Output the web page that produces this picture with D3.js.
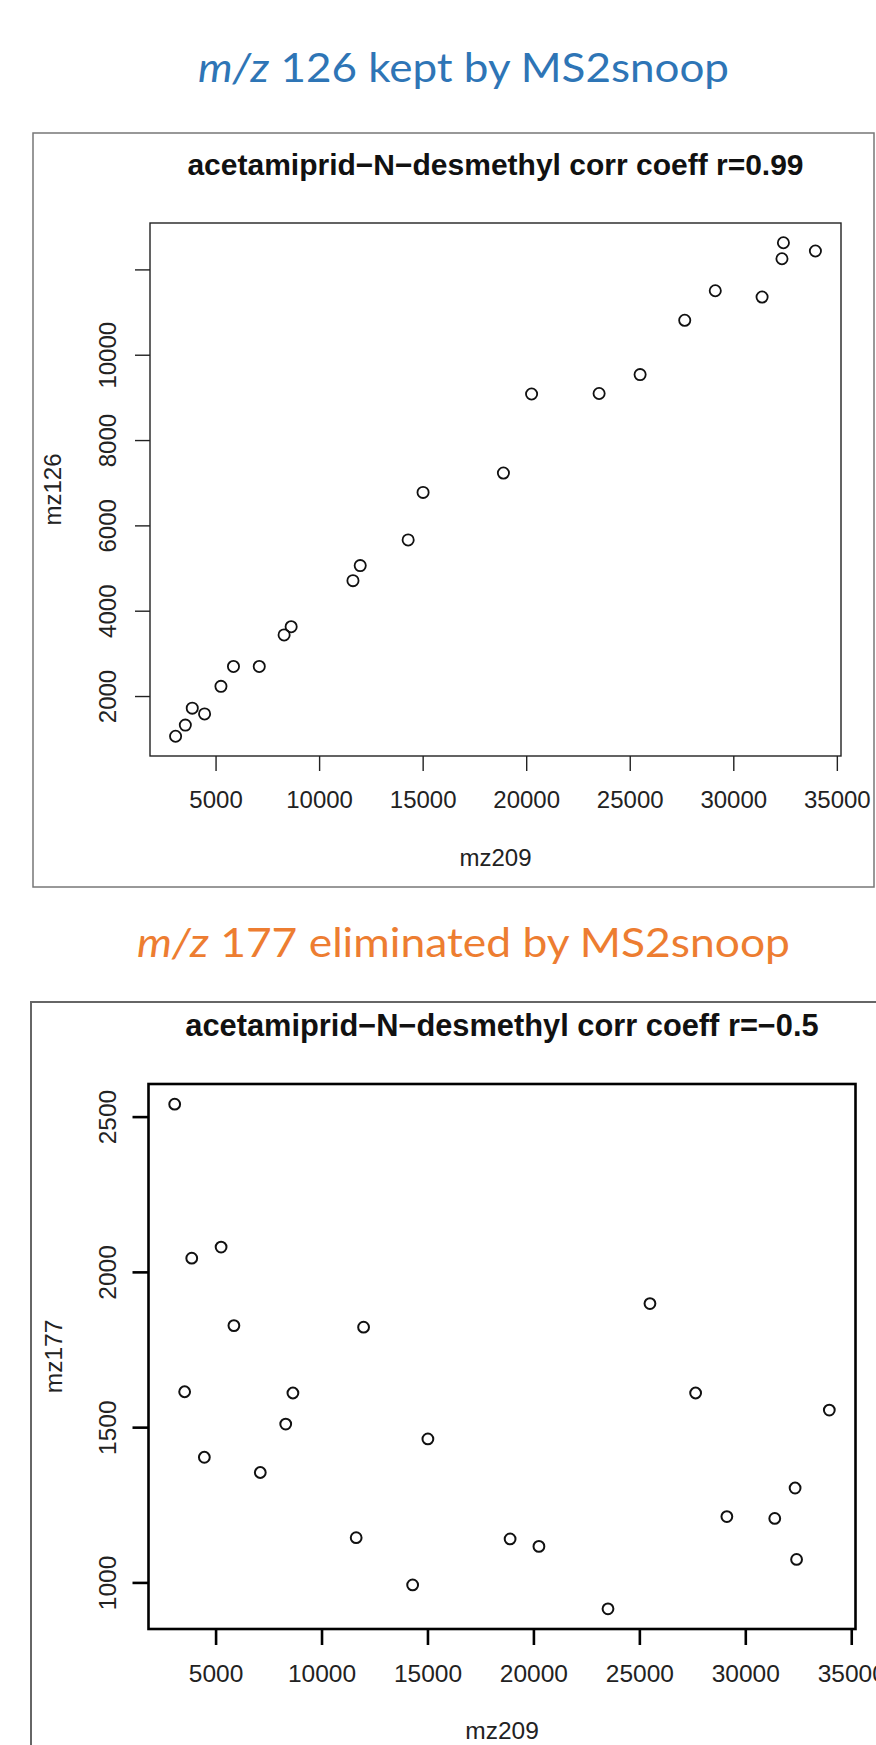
<!DOCTYPE html>
<html>
<head>
<meta charset="utf-8">
<script src="https://cdn.jsdelivr.net/npm/d3@7"></script>
<style>
  body { margin: 0; background: #fff; }
  svg { display: block; }
</style>
</head>
<body>
<script>
// values (same samples in both)
var mz209 = [3070, 3540, 3875, 4470, 5260, 5865, 7110, 8310, 8650, 11635, 11985, 14300,
             15020, 18900, 20260, 23520, 25500, 27655, 29130, 31390, 32350, 32420, 33965];
var mz126 = [1057, 1318, 1716, 1580, 2227, 2693, 2693, 3432, 3625, 4705, 5057, 5659,
             6773, 7227, 9080, 9091, 9534, 10807, 11500, 11352, 12250, 12625, 12432];
var mz177 = [2540, 1614, 2044, 1403, 2080, 1827, 1354, 1510, 1610, 1144, 1822, 992,
             1462, 1140, 1116, 915, 1898, 1610, 1212, 1206, 1304, 1074, 1555];

var xTicks = [5000, 10000, 15000, 20000, 25000, 30000, 35000];
var y126Ticks = [2000, 4000, 6000, 8000, 10000, 12000];
var y126Labels = ["2000", "4000", "6000", "8000", "10000", ""];
var y177Ticks = [1000, 1500, 2000, 2500];
var y177Labels = ["1000", "1500", "2000", "2500"];

var W = 876, H = 1745;

var svg = d3.select("body").append("svg")
  .attr("width", W)
  .attr("height", H);

// R pads the data range by 4% on each side
var rDomain = function(vals){
  var lo = d3.min(vals), hi = d3.max(vals), pad = (hi - lo) * 0.04;
  return [lo - pad, hi + pad];
}

// slide headings (Calibri in the original, so squeeze Lato to the same width)
var drawHeader = function(y, num, rest, color, width){
  var t = svg.append("text")
    .attr("x", 463.5)
    .attr("y", y)
    .attr("text-anchor", "middle")
    .attr("fill", color)
    .attr("textLength", width)
    .attr("lengthAdjust", "spacingAndGlyphs")
    .style("font-family", "Lato, 'Open Sans', sans-serif")
    .style("font-size", "40px");
  t.append("tspan").style("font-style", "italic").text("m/z");
  t.append("tspan").text(" " + num + " " + rest);
}

var drawPanel = function(p){
  // outer frame of the pasted picture
  svg.append("rect")
    .attr("x", p.frame[0]).attr("y", p.frame[1])
    .attr("width", p.frame[2]).attr("height", p.frame[3])
    .attr("fill", "none")
    .attr("stroke", p.frameColor)
    .attr("stroke-width", p.frameWidth);

  var x = d3.scaleLinear().domain(rDomain(mz209)).range([p.left, p.right]);
  var y = d3.scaleLinear().domain(rDomain(p.ys)).range([p.bottom, p.top]);

  var g = svg.append("g")
    .style("font-family", "'Liberation Sans', Arial, sans-serif")
    .style("font-size", p.fs + "px");

  // x axis
  var xa = g.append("g")
    .attr("transform", "translate(0," + p.bottom + ")")
    .call(d3.axisBottom(x).tickValues(xTicks).tickSize(p.tick).tickFormat(d3.format("d")));
  xa.select(".domain").remove();
  xa.selectAll("line").attr("stroke", p.ink).attr("stroke-width", p.lw);
  xa.selectAll("text")
    .attr("y", p.xLabOff).attr("dy", null)
    .attr("fill", "#222")
    .style("font-size", p.fs + "px")
    .style("font-family", "'Liberation Sans', Arial, sans-serif");

  // y axis with labels turned like R's default las=0
  var ya = g.append("g")
    .attr("transform", "translate(" + p.left + ",0)")
    .call(d3.axisLeft(y).tickValues(p.yTicks).tickSize(p.tick)
      .tickFormat(function(d, i){ return p.yLabels[i]; }));
  ya.select(".domain").remove();
  ya.selectAll("line").attr("stroke", p.ink).attr("stroke-width", p.lw);
  ya.selectAll("text")
    .attr("x", 0).attr("dy", null)
    .attr("y", -p.yLabOff)
    .attr("transform", "rotate(-90)")
    .attr("text-anchor", "middle")
    .attr("fill", "#222")
    .style("font-size", p.fs + "px")
    .style("font-family", "'Liberation Sans', Arial, sans-serif");

  // plot box
  g.append("rect")
    .attr("x", p.left).attr("y", p.top)
    .attr("width", p.right - p.left).attr("height", p.bottom - p.top)
    .attr("fill", "none")
    .attr("stroke", p.ink)
    .attr("stroke-width", p.lw);

  // title and axis titles
  g.append("text")
    .attr("x", p.titleX).attr("y", p.top - 48)
    .attr("text-anchor", "middle")
    .style("font-weight", "bold")
    .style("font-size", p.tfs + "px")
    .attr("fill", "#111")
    .text(p.title);

  g.append("text")
    .attr("x", (p.left + p.right) / 2).attr("y", p.bottom + 110)
    .attr("text-anchor", "middle")
    .attr("fill", "#222")
    .text("mz209");

  g.append("text")
    .attr("transform", "translate(" + p.yTitleX + "," + ((p.top + p.bottom) / 2) + ") rotate(-90)")
    .attr("text-anchor", "middle")
    .attr("fill", "#222")
    .text(p.yName);

  // points
  g.selectAll("circle.pt")
    .data(mz209.map(function(v, i){ return {x: v, y: p.ys[i]}; }))
    .enter()
    .append("circle")
    .attr("class", "pt")
    .attr("cx", function(d){ return x(d.x); })
    .attr("cy", function(d){ return y(d.y); })
    .attr("r", p.r)
    .attr("fill", "none")
    .attr("stroke", "#111")
    .attr("stroke-width", p.pw);
}

drawHeader(82, "126", "kept by MS2snoop", "#2E75B6", 531);
drawHeader(957, "177", "eliminated by MS2snoop", "#ED7D31", 653);

drawPanel({
  frame: [33, 133, 841, 754], frameColor: "#777", frameWidth: 1.5,
  left: 150, right: 841, top: 223, bottom: 756,
  ys: mz126, yTicks: y126Ticks, yLabels: y126Labels, yName: "mz126",
  title: "acetamiprid\u2212N\u2212desmethyl corr coeff r=0.99", titleX: 495.5,
  fs: 24, tfs: 30, tick: 15, lw: 1.4, ink: "#222",
  xLabOff: 52, yLabOff: 34, yTitleX: 61, r: 5.6, pw: 1.8
});

drawPanel({
  frame: [31, 1002, 860, 760], frameColor: "#666", frameWidth: 2,
  left: 148.5, right: 855.5, top: 1084, bottom: 1629,
  ys: mz177, yTicks: y177Ticks, yLabels: y177Labels, yName: "mz177",
  title: "acetamiprid\u2212N\u2212desmethyl corr coeff r=\u22120.5", titleX: 502,
  fs: 24.5, tfs: 30.8, tick: 16, lw: 2.6, ink: "#000",
  xLabOff: 53, yLabOff: 33, yTitleX: 62, r: 5.4, pw: 2
});
</script>
</body>
</html>
